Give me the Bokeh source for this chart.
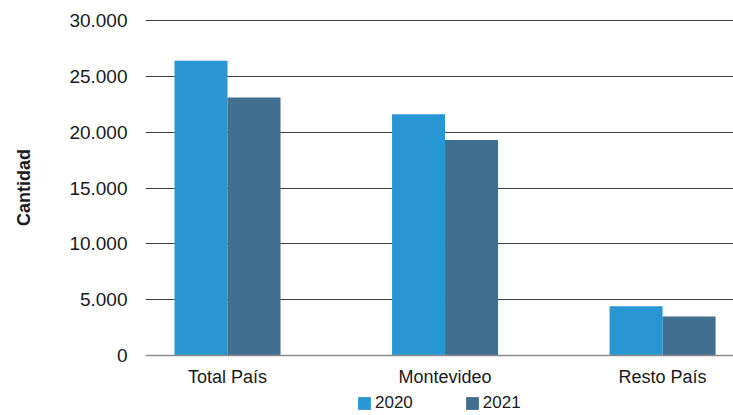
from bokeh.plotting import figure
from bokeh.models import (ColumnDataSource, FixedTicker, Range1d, Legend,
                          LegendItem, Span)
from bokeh.core.properties import value
from bokeh.transform import dodge
from bokeh.embed import file_html
from bokeh.resources import INLINE

categories = ["Total País", "Montevideo", "Resto País"]
series_names = ["2020", "2021"]
values_2020 = [26400, 21600, 4400]
values_2021 = [23100, 19300, 3500]
y_ticks = [0, 5000, 10000, 15000, 20000, 25000, 30000]
y_tick_labels = ["0", "5.000", "10.000", "15.000", "20.000", "25.000", "30.000"]
colors = ["#2996D4", "#416F8F"]

FONT = "Liberation Sans"

# layout: the plotting frame spans the whole lower part so that the legend
# (drawn inside the frame) is not clipped
W, H = 733, 415
top_px, zero_px = 19, 355          # pixel rows of the frame top and of y = 0
upp = 30000 / (zero_px - 20)        # data units per pixel
y_end = 30000 + (20 - top_px) * upp
y_start = -(H - zero_px) * upp

p = figure(width=W, height=H, output_backend="svg", toolbar_location=None,
           x_range=Range1d(-0.377, 2.326), y_range=Range1d(y_start, y_end),
           min_border_left=145, min_border_right=0, min_border_top=top_px,
           min_border_bottom=0)
p.outline_line_color = None
p.background_fill_color = "white"
p.border_fill_color = "white"
p.xaxis.visible = False

xs = list(range(len(categories)))
bw = 0.2437
src = ColumnDataSource(dict(x=xs, v2020=values_2020, v2021=values_2021,
                            cat=categories))
r1 = p.vbar(x=dodge("x", -bw / 2), top="v2020", width=bw, source=src,
            fill_color=colors[0], line_color=None)
r2 = p.vbar(x=dodge("x", bw / 2), top="v2021", width=bw, source=src,
            fill_color=colors[1], line_color=None)

# grid
p.xgrid.grid_line_color = None
p.ygrid.ticker = FixedTicker(ticks=y_ticks[1:])
p.ygrid.grid_line_color = "#3c3c3c"
p.ygrid.grid_line_width = 1

# baseline (category axis line)
p.add_layout(Span(location=0, dimension="width", line_color="#8a8a8a",
                  line_width=1.5))

# category labels
p.text(x="x", y=-21 * upp, text="cat", source=src, text_align="center",
       text_baseline="middle", text_font=value(FONT), text_font_size="18px",
       text_color="#1a1a1a")

# y axis
p.yaxis.ticker = FixedTicker(ticks=y_ticks)
p.yaxis.major_label_overrides = {t: l for t, l in zip(y_ticks, y_tick_labels)}
p.yaxis.axis_line_color = None
p.yaxis.major_tick_line_color = None
p.yaxis.minor_tick_line_color = None
p.yaxis.major_tick_out = 0
p.yaxis.major_tick_in = 0
p.yaxis.major_label_standoff = 18
p.yaxis.major_label_text_font = FONT
p.yaxis.major_label_text_font_size = "19px"
p.yaxis.major_label_text_color = "#1a1a1a"
# leading no-break spaces shift the rotated label up to the centre of the
# 0..30.000 value band (the frame also holds the category labels and legend)
p.yaxis.axis_label = "\u00a0" * 12 + "Cantidad"
p.yaxis.axis_label_text_font = FONT
p.yaxis.axis_label_text_font_style = "bold"
p.yaxis.axis_label_text_font_size = "18px"
p.yaxis.axis_label_text_color = "#1a1a1a"
p.yaxis.axis_label_standoff = 32

legend = Legend(items=[LegendItem(label=series_names[0], renderers=[r1]),
                       LegendItem(label=series_names[1], renderers=[r2])],
                orientation="horizontal", location=(211, 2))
legend.border_line_color = None
legend.background_fill_alpha = 0
legend.label_text_font = FONT
legend.label_text_font_size = "17px"
legend.label_text_color = "#1a1a1a"
legend.glyph_width = 16
legend.glyph_height = 16
legend.label_height = 16
legend.label_standoff = 3
legend.spacing = 51
legend.padding = 0
legend.margin = 0
p.add_layout(legend, "center")

open("out.html", "w").write(file_html(p, INLINE))
